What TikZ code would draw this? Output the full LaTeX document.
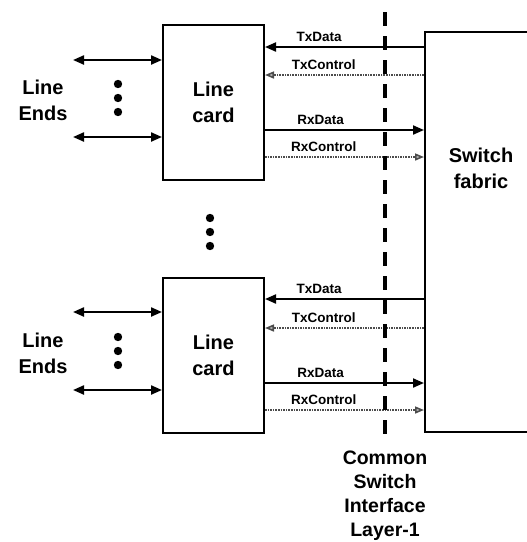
\documentclass[tikz,border=0pt]{standalone}
\usepackage{fontspec}
\setmainfont{Liberation Sans}
\usetikzlibrary{arrows.meta, positioning}

\begin{document}
\begin{tikzpicture}[
    x=1pt, y=-1pt,
    card/.style={rectangle, draw, line width=2pt, minimum width=101pt,
                 minimum height=155pt, align=center,
                 font=\fontsize{20}{26}\selectfont\bfseries},
    fabric/.style={rectangle, draw, line width=2pt, minimum width=130pt,
                   minimum height=400pt},
    biglabel/.style={align=center, font=\fontsize{20}{26}\selectfont\bfseries},
    siglabel/.style={above=1pt, font=\fontsize{13.5}{15}\selectfont\bfseries},
    data/.style={-{Triangle[length=11pt, width=9pt]}, line width=2pt},
    control/.style={-{Triangle[length=9pt, width=7pt, fill=gray!55]},
                    line width=1.6pt, densely dotted, draw=gray!60!black},
    lineend/.style={{Triangle[length=11pt, width=9pt]}-{Triangle[length=11pt, width=9pt]},
                    line width=2.2pt},
    cutline/.style={line width=4pt, dash pattern=on 14pt off 10pt},
]
\useasboundingbox (0,0) rectangle (527,542);
\begin{scope}
\clip (0,0) rectangle (527,542);
\node[fabric] (fabric) at (490,232) {};
\end{scope}
\node[biglabel] (fabriclabel) at (481,168) {Switch\\fabric};

% line cards
\node[card] (card1) at (213.5,102.5) {Line\\card};
\node[card] (card2) at (213.5,355) {Line\\card};

% signal rows
\coordinate (tx1) at (0,47);
\coordinate (txc1) at (0,75);
\coordinate (rx1) at (0,130);
\coordinate (rxc1) at (0,157);
\coordinate (tx2) at (0,299);
\coordinate (txc2) at (0,328);
\coordinate (rx2) at (0,383);
\coordinate (rxc2) at (0,410);

\draw[data] (fabric.west |- tx1) -- node[siglabel, pos=0.66] {TxData} (card1.east |- tx1);
\draw[control] (fabric.west |- txc1) -- node[siglabel, pos=0.63] {TxControl} (card1.east |- txc1);
\draw[data] (card1.east |- rx1) -- node[siglabel, pos=0.35] {RxData} (fabric.west |- rx1);
\draw[control] (card1.east |- rxc1) -- node[siglabel, pos=0.37] {RxControl} (fabric.west |- rxc1);

\draw[data] (fabric.west |- tx2) -- node[siglabel, pos=0.66] {TxData} (card2.east |- tx2);
\draw[control] (fabric.west |- txc2) -- node[siglabel, pos=0.63] {TxControl} (card2.east |- txc2);
\draw[data] (card2.east |- rx2) -- node[siglabel, pos=0.35] {RxData} (fabric.west |- rx2);
\draw[control] (card2.east |- rxc2) -- node[siglabel, pos=0.37] {RxControl} (fabric.west |- rxc2);

% line ends
\coordinate (le1a) at (73,60);
\coordinate (le1b) at (73,137);
\coordinate (le2a) at (73,312);
\coordinate (le2b) at (73,390);
\draw[lineend] (le1a) -- (card1.west |- le1a);
\draw[lineend] (le1b) -- (card1.west |- le1b);
\draw[lineend] (le2a) -- (card2.west |- le2a);
\draw[lineend] (le2b) -- (card2.west |- le2b);
\node[biglabel] (ends1) at (43,100) {Line\\Ends};
\node[biglabel] (ends2) at (43,353) {Line\\Ends};

% dots
\foreach \y in {84,98,112,337,351,365}
  \fill (118,\y) circle (4.2);
\foreach \y in {218,232,246}
  \fill (210,\y) circle (4.2);

% interface cut
\coordinate (cuttop) at (385,12);
\coordinate (cutbot) at (385,438);
\draw[cutline] (cuttop) -- (cutbot);
\node[align=center, font=\fontsize{19.5}{24}\selectfont\bfseries]
  (cutlabel) at (385,496) {Common\\Switch\\Interface\\Layer-1};
\end{tikzpicture}
\end{document}
